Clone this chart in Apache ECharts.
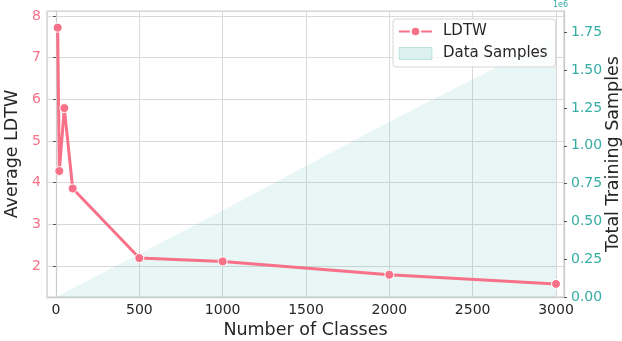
<!DOCTYPE html>
<html>
<head>
<meta charset="utf-8">
<script src="https://cdn.jsdelivr.net/npm/echarts@6/dist/echarts.min.js"></script>
<style>html,body{margin:0;padding:0;background:#fff}#c{width:622px;height:341px}</style>
</head>
<body>
<div id="c"></div>
<script>
const classes = [10, 20, 50, 100, 500, 1000, 2000, 3000];
const ldtw = [7.72, 4.28, 5.79, 3.86, 2.19, 2.11, 1.79, 1.57];
const samples = [5800, 11500, 28800, 57500, 285000, 572000, 1160000, 1720000];

const PINK = '#f77189';
const TEAL = '#36ada4';
const FONT = 'DejaVu Sans';

const chart = echarts.init(document.getElementById('c'), null, {renderer: 'canvas'});
chart.setOption({
  animation: false,
  textStyle: {fontFamily: FONT},
  grid: {left: 47, right: 58, top: 11, bottom: 44, show: true, borderColor: '#cccccc', borderWidth: 1.25,
    containLabel: false, outerBoundsMode: 'none'},
  legend: {
    orient: 'vertical', left: 393, top: 19, padding: [5, 8, 6, 5],
    itemWidth: 33, itemHeight: 12, itemGap: 7,
    backgroundColor: 'rgba(255,255,255,0.8)', borderColor: '#d6d6d6', borderWidth: 1, borderRadius: 3,
    textStyle: {fontFamily: FONT, fontSize: 15, color: '#262626', padding: [0, 0, 0, 6]},
    data: [
      {name: 'LDTW'},
      {name: 'Data Samples', icon: 'rect', itemStyle: {color: 'rgba(54,173,164,0.17)', borderColor: 'rgba(54,173,164,0.25)', borderWidth: 1}}
    ]
  },
  xAxis: {
    type: 'value', min: -54, max: 3048, splitNumber: 6,
    name: 'Number of Classes', nameLocation: 'middle', nameGap: 23,
    nameTextStyle: {fontFamily: FONT, fontSize: 17.5, color: '#262626'},
    axisLine: {show: true, lineStyle: {color: '#cccccc', width: 1.25}},
    axisTick: {show: false},
    axisLabel: {showMinLabel: false, showMaxLabel: false, fontFamily: FONT, fontSize: 14, color: '#262626', margin: 6,
      formatter: v => String(v)},
    splitLine: {show: true, lineStyle: {color: '#d9d9d9', width: 1}}
  },
  yAxis: [
    {
      type: 'value', min: 1.256, max: 8.12, splitNumber: 7,
      name: 'Average LDTW', nameLocation: 'middle', nameGap: 18,
      nameTextStyle: {fontFamily: FONT, fontSize: 17.5, color: '#262626'},
      axisLine: {show: true, lineStyle: {color: '#cccccc', width: 1.25}},
      axisTick: {show: true, length: 3, inside: false, lineStyle: {color: '#555555', width: 1}},
      axisLabel: {showMinLabel: false, showMaxLabel: false, fontFamily: FONT, fontSize: 14, color: PINK, margin: 6},
      splitLine: {show: true, lineStyle: {color: '#d9d9d9', width: 1}}
    },
    {
      type: 'value', min: 0, max: 1892000, interval: 250000, position: 'right',
      axisLine: {show: true, lineStyle: {color: '#cccccc', width: 1.25}},
      axisTick: {show: true, length: 3, lineStyle: {color: '#555555', width: 1}},
      axisLabel: {showMaxLabel: false, fontFamily: FONT, fontSize: 14, color: TEAL, margin: 7,
        formatter: v => (v / 1e6).toFixed(2)},
      splitLine: {show: false}
    }
  ],
  graphic: [
    {type: 'text', left: 553, top: 1, style: {text: '1e6', fontFamily: FONT, fontSize: 8, fill: TEAL}},
    {type: 'text', x: 613, y: 154, rotation: Math.PI / 2,
      style: {text: 'Total Training Samples', fontFamily: FONT, fontSize: 17.5, fill: '#262626',
        textAlign: 'center', textVerticalAlign: 'middle'}}
  ],
  series: [
    {
      name: 'Data Samples', type: 'line', yAxisIndex: 1, symbol: 'none',
      data: classes.map((c, i) => [c, samples[i]]),
      lineStyle: {width: 0, color: 'rgba(54,173,164,0)'},
      itemStyle: {color: 'rgba(54,173,164,0.17)'},
      areaStyle: {color: 'rgba(54,173,164,0.16)', origin: 'start'},
      z: 1
    },
    {
      name: 'LDTW', type: 'line', yAxisIndex: 0,
      data: classes.map((c, i) => [c, ldtw[i]]),
      symbol: 'circle', symbolSize: 9,
      lineStyle: {width: 3, color: PINK},
      itemStyle: {color: PINK, borderColor: '#ffffff', borderWidth: 1},
      z: 3
    }
  ]
});
</script>
</body>
</html>
